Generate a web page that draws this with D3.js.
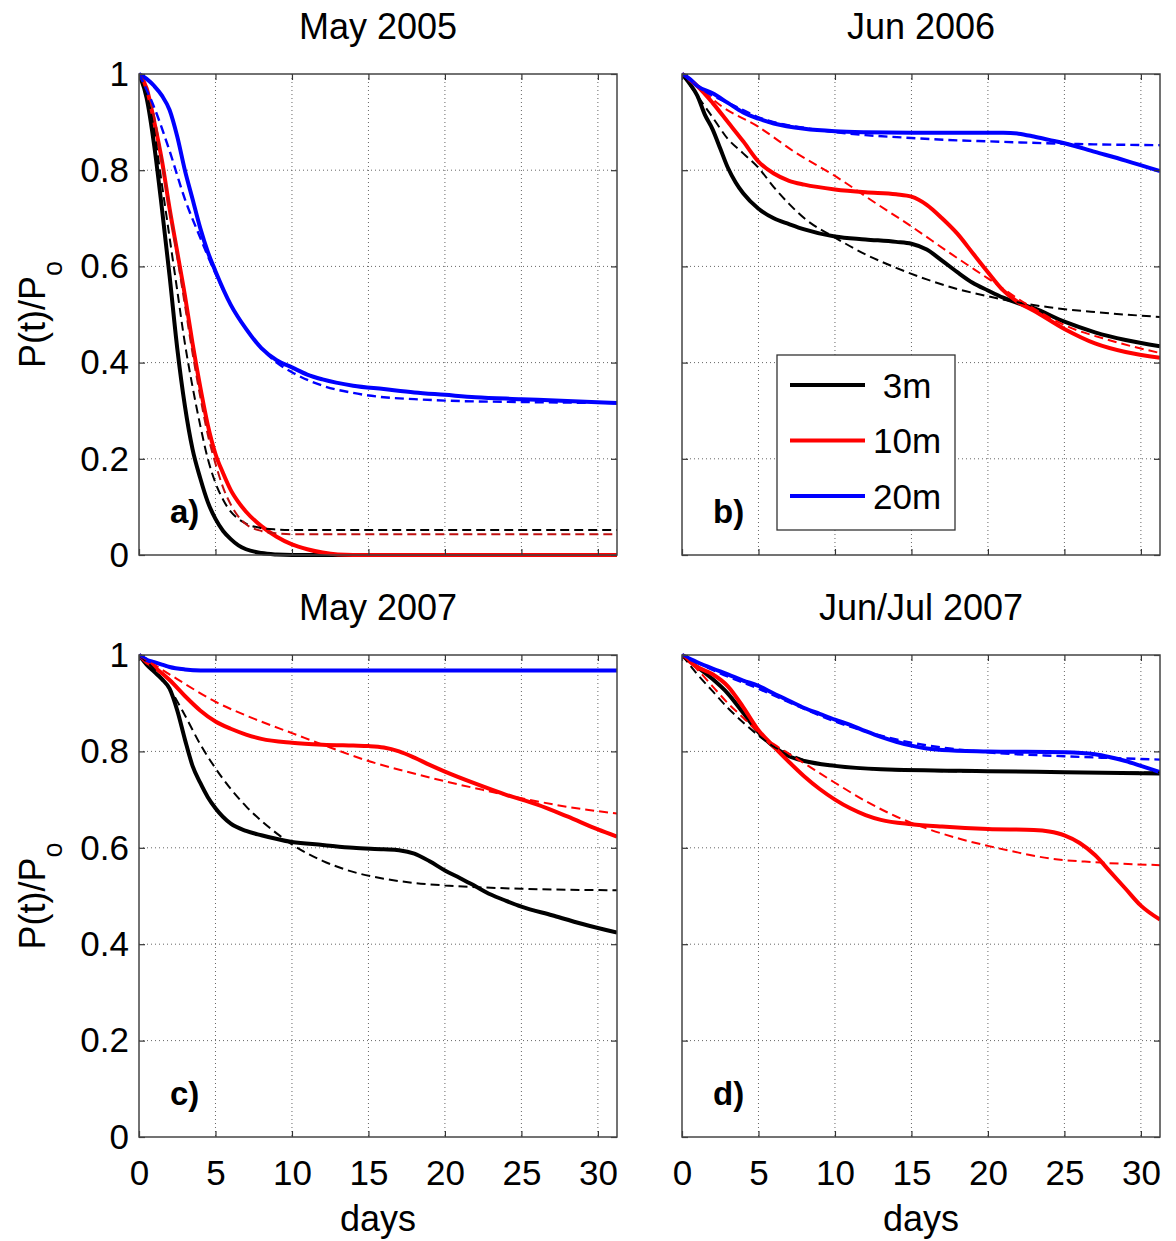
<!DOCTYPE html>
<html>
<head>
<meta charset="utf-8">
<script src="https://cdn.jsdelivr.net/npm/d3@7"></script>
<style>
  body { margin: 0; background: #fff; }
  svg text { font-family: "Liberation Sans", Arial, Helvetica, sans-serif; }
</style>
</head>
<body>
<div id="chart"></div>
<script>
// P(t)/Po decay curves, 4 cruises, 3 depths (solid = data, dashed = fit)
const titles = ["May 2005", "Jun 2006", "May 2007", "Jun/Jul 2007"];
const tags = ["a)", "b)", "c)", "d)"];
const depths = [" 3m", "10m", "20m"];
const xTicks = [0, 5, 10, 15, 20, 25, 30];
const yTicks = [0, 0.2, 0.4, 0.6, 0.8, 1];

// panel a) May 2005  — [day, P/Po]
const a3m = [[0,1],[0.5,0.95],[1,0.85],[1.5,0.72],[2,0.58],[2.5,0.43],[3,0.31],[3.5,0.22],[4,0.16],[4.5,0.11],[5,0.075],[5.5,0.05],[6,0.033],[6.5,0.02],[7,0.012],[8,0.004],[9,0.001],[10,0],[31.25,0]];
const a10m = [[0,1],[0.5,0.97],[1,0.9],[1.5,0.82],[2,0.72],[2.5,0.63],[3,0.54],[3.5,0.44],[4,0.35],[4.5,0.27],[5,0.21],[5.5,0.17],[6,0.135],[6.5,0.11],[7,0.09],[8,0.06],[9,0.038],[10,0.022],[11,0.012],[12,0.005],[13,0.001],[14,0],[31.25,0]];
const a20m = [[0,1],[0.5,0.99],[1,0.975],[1.5,0.955],[2,0.925],[2.5,0.87],[3,0.8],[3.5,0.74],[4,0.68],[4.5,0.63],[5,0.59],[6,0.52],[7,0.47],[8,0.43],[9,0.405],[10,0.39],[11,0.375],[12,0.365],[14,0.352],[16,0.345],[18,0.338],[20,0.333],[22,0.328],[25,0.324],[28,0.32],[31.25,0.316]];
const a3mFit = [[0,1],[0.5,0.96],[1,0.88],[1.5,0.77],[2,0.66],[2.5,0.55],[3,0.44],[3.5,0.35],[4,0.27],[4.5,0.2],[5,0.15],[5.5,0.115],[6,0.09],[6.5,0.075],[7,0.065],[8,0.056],[9,0.053],[10,0.052],[31.25,0.052]];
const a10mFit = [[0,1],[0.5,0.97],[1,0.91],[1.5,0.82],[2,0.72],[2.5,0.62],[3,0.52],[3.5,0.42],[4,0.33],[4.5,0.25],[5,0.19],[5.5,0.14],[6,0.105],[6.5,0.08],[7,0.064],[8,0.05],[9,0.045],[10,0.043],[31.25,0.043]];
const a20mFit = [[0,1],[1,0.93],[2,0.84],[3,0.74],[4,0.66],[5,0.585],[6,0.52],[7,0.47],[8,0.43],[9,0.4],[10,0.38],[12,0.352],[14,0.337],[16,0.328],[18,0.324],[20,0.321],[25,0.318],[31.25,0.316]];

// panel b) Jun 2006
const b3m = [[0,1],[0.5,0.98],[1,0.955],[1.5,0.915],[2,0.885],[2.5,0.845],[3,0.805],[3.5,0.775],[4,0.752],[5,0.72],[6,0.7],[7,0.688],[8,0.677],[10,0.662],[12,0.656],[14,0.651],[15,0.647],[16,0.635],[17,0.612],[18,0.588],[19,0.566],[20,0.55],[21,0.535],[22,0.523],[23,0.513],[25,0.485],[27,0.463],[29,0.447],[31.25,0.434]];
const b10m = [[0,1],[1,0.975],[2,0.94],[3,0.9],[4,0.86],[5,0.818],[6,0.793],[7,0.778],[8,0.77],[10,0.76],[12,0.754],[14,0.75],[15,0.745],[16,0.728],[17,0.7],[18,0.668],[19,0.628],[20,0.588],[21,0.55],[22,0.525],[23,0.508],[25,0.47],[27,0.44],[29,0.422],[31.25,0.41]];
const b20m = [[0,1],[0.5,0.99],[1,0.975],[2,0.96],[3,0.94],[4,0.92],[5,0.907],[6,0.897],[8,0.886],[10,0.881],[12,0.879],[15,0.878],[18,0.878],[21,0.878],[22,0.876],[23,0.87],[24,0.863],[25,0.856],[27,0.838],[29,0.82],[31.25,0.798]];
const b3mFit = [[0,1],[1,0.955],[2,0.91],[3,0.865],[4,0.835],[5,0.805],[6,0.765],[7,0.73],[8,0.7],[10,0.66],[12,0.625],[14,0.597],[16,0.573],[18,0.553],[20,0.538],[22,0.525],[24,0.515],[27,0.505],[31.25,0.495]];
const b10mFit = [[0,1],[1,0.975],[2.5,0.935],[5,0.89],[7.5,0.835],[10,0.788],[12.5,0.735],[15,0.683],[17.5,0.628],[20,0.575],[22.5,0.522],[25,0.478],[28,0.446],[31.25,0.42]];
const b20mFit = [[0,1],[1,0.975],[2,0.955],[3,0.94],[4,0.925],[5,0.91],[6,0.9],[8,0.888],[10,0.879],[12,0.873],[15,0.867],[18,0.862],[20,0.86],[25,0.855],[31.25,0.852]];

// panel c) May 2007
const c3m = [[0,1],[0.5,0.98],[1,0.965],[1.5,0.95],[2,0.93],[2.5,0.885],[3,0.825],[3.5,0.77],[4,0.735],[4.5,0.705],[5,0.682],[6,0.65],[7,0.635],[8,0.626],[10,0.612],[12,0.606],[14,0.6],[16,0.597],[17,0.595],[18,0.588],[19,0.572],[20,0.553],[21,0.537],[22,0.52],[23,0.503],[24,0.49],[25,0.478],[27,0.46],[29,0.442],[31.25,0.424]];
const c10m = [[0,1],[0.5,0.985],[1,0.975],[1.5,0.962],[2,0.948],[3,0.915],[4,0.885],[5,0.862],[6,0.847],[7,0.835],[8,0.826],[10,0.818],[12,0.814],[14,0.812],[15,0.811],[16,0.808],[17,0.8],[18,0.787],[19,0.772],[20,0.758],[22,0.733],[24,0.71],[26,0.69],[28,0.665],[30,0.638],[31.25,0.623]];
const c20m = [[0,1],[0.5,0.99],[1,0.985],[1.5,0.98],[2,0.975],[3,0.97],[4,0.968],[31.25,0.968]];
const c3mFit = [[0,1],[1,0.97],[2,0.93],[3,0.875],[4,0.815],[5,0.765],[6,0.722],[7,0.686],[8,0.656],[9,0.63],[10,0.607],[12,0.573],[14,0.55],[16,0.536],[18,0.527],[20,0.522],[25,0.515],[31.25,0.512]];
const c10mFit = [[0,1],[2.5,0.95],[5,0.903],[7.5,0.868],[10,0.838],[12.5,0.808],[15,0.78],[17.5,0.758],[20,0.738],[22.5,0.72],[25,0.703],[28,0.685],[31.25,0.671]];
const c20mFit = [[0,1],[1,0.985],[2,0.975],[3,0.97],[5,0.968],[31.25,0.968]];

// panel d) Jun/Jul 2007
const d3m = [[0,1],[1,0.975],[2,0.95],[3,0.92],[4,0.88],[5,0.84],[6,0.81],[7,0.79],[8,0.78],[10,0.77],[13,0.763],[20,0.759],[25,0.757],[31.25,0.754]];
const d10m = [[0,1],[1,0.975],[2,0.96],[3,0.935],[4,0.892],[5,0.844],[6,0.81],[7,0.778],[8,0.748],[9,0.722],[10,0.7],[11,0.682],[12,0.668],[13,0.658],[15,0.649],[17,0.644],[20,0.639],[23,0.637],[24,0.634],[25,0.626],[26,0.61],[27,0.585],[28,0.55],[29,0.515],[30,0.48],[31.25,0.451]];
const d20m = [[0,1],[1,0.985],[2,0.972],[3,0.96],[4,0.947],[5,0.936],[6,0.92],[7,0.905],[8,0.89],[9,0.878],[10,0.866],[11,0.855],[12,0.842],[13,0.83],[14,0.82],[15,0.812],[16,0.806],[17,0.803],[20,0.8],[25,0.798],[27,0.794],[28,0.788],[29,0.78],[30,0.77],[31.25,0.757]];
const d3mFit = [[0,1],[1,0.96],[2,0.925],[3,0.89],[4,0.86],[5,0.833],[6,0.81],[7,0.795],[8,0.782],[10,0.77],[12,0.764],[15,0.76],[20,0.758],[25,0.757],[31.25,0.756]];
const d10mFit = [[0,1],[1,0.97],[2,0.935],[3,0.9],[4,0.87],[5,0.84],[6,0.815],[7,0.795],[8,0.775],[10,0.735],[12,0.697],[14,0.665],[16,0.64],[18,0.62],[20,0.604],[22,0.59],[24,0.578],[27,0.57],[31.25,0.564]];
const d20mFit = [[0,1],[2.5,0.962],[5,0.93],[7.5,0.895],[10,0.862],[12.5,0.837],[15,0.818],[17.5,0.806],[20,0.798],[25,0.79],[31.25,0.783]];

const colors = ["#000000", "#ff0000", "#0000ff"];
const width = 1176, height = 1241;
const panelW = 478;
const lefts = [139, 682];
const tops = [74, 655];
const bottoms = [555, 1137];

const panels = [
  { data: [a3m, a10m, a20m], fits: [a3mFit, a10mFit, a20mFit] },
  { data: [b3m, b10m, b20m], fits: [b3mFit, b10mFit, b20mFit] },
  { data: [c3m, c10m, c20m], fits: [c3mFit, c10mFit, c20mFit] },
  { data: [d3m, d10m, d20m], fits: [d3mFit, d10mFit, d20mFit] }
];

const svg = d3.select("#chart")
  .append("svg")
    .attr("width", width)
    .attr("height", height)
    .attr("viewBox", [0, 0, width, height]);

svg.append("rect").attr("width", width).attr("height", height).attr("fill", "white");

panels.forEach((p, i) => {
  const col = i % 2, row = Math.floor(i / 2);
  const x0 = lefts[col], y0 = tops[row], y1 = bottoms[row];
  const x = d3.scaleLinear().domain([0, 31.25]).range([x0, x0 + panelW]);
  const y = d3.scaleLinear().domain([0, 1]).range([y1, y0]);
  const g = svg.append("g");

  // dotted grid
  g.selectAll(".gx")
    .data(xTicks.filter(d => d > 0))
    .enter().append("line")
      .attr("x1", d => x(d)).attr("x2", d => x(d))
      .attr("y1", y0).attr("y2", y1)
      .attr("stroke", "#666").attr("stroke-width", 1)
      .attr("stroke-dasharray", "1,3");
  g.selectAll(".gy")
    .data(yTicks.filter(d => d > 0 && d < 1))
    .enter().append("line")
      .attr("x1", x0).attr("x2", x0 + panelW)
      .attr("y1", d => y(d)).attr("y2", d => y(d))
      .attr("stroke", "#666").attr("stroke-width", 1)
      .attr("stroke-dasharray", "1,3");

  // clip to axes box
  const clipId = "clip" + i;
  svg.append("clipPath").attr("id", clipId)
    .append("rect").attr("x", x0).attr("y", y0 - 2).attr("width", panelW).attr("height", y1 - y0 + 4);

  const line = d3.line()
    .x(d => x(d[0]))
    .y(d => y(d[1]))
    .curve(d3.curveMonotoneX);

  const plot = g.append("g").attr("clip-path", `url(#${clipId})`);
  p.data.forEach((s, k) => {
    plot.append("path")
      .datum(s)
      .attr("fill", "none")
      .attr("stroke", colors[k])
      .attr("stroke-width", 4)
      .attr("stroke-linejoin", "round")
      .attr("d", line);
  });
  p.fits.forEach((s, k) => {
    plot.append("path")
      .datum(s)
      .attr("fill", "none")
      .attr("stroke", (i === 0 && k === 1) ? "#c01010" : colors[k])
      .attr("stroke-width", k === 2 ? 2.4 : 2)
      .attr("stroke-dasharray", "9,5")
      .attr("d", line);
  });

  // axes (inward ticks on all sides)
  const tickStyle = sel => {
    sel.select(".domain").remove();
    sel.selectAll(".tick line").attr("stroke", "#333").attr("stroke-width", 1.2);
    sel.selectAll(".tick text")
      .attr("fill", "#000")
      .style("font-size", "35px")
      .style("font-family", '"Liberation Sans", Arial, sans-serif');
  };
  g.append("g").attr("transform", `translate(${x0},0)`)
    .call(d3.axisLeft(y).tickValues(yTicks).tickSize(-6).tickPadding(10)
      .tickFormat(col === 0 ? d3.format("~g") : ""))
    .call(tickStyle);
  g.append("g").attr("transform", `translate(${x0 + panelW},0)`)
    .call(d3.axisRight(y).tickValues(yTicks).tickSize(-6).tickFormat(""))
    .call(tickStyle);
  g.append("g").attr("transform", `translate(0,${y1})`)
    .call(d3.axisBottom(x).tickValues(xTicks).tickSize(-6).tickPadding(23)
      .tickFormat(row === 1 ? d3.format("d") : ""))
    .call(tickStyle);
  g.append("g").attr("transform", `translate(0,${y0})`)
    .call(d3.axisTop(x).tickValues(xTicks).tickSize(-6).tickFormat(""))
    .call(tickStyle);

  // box
  g.append("rect")
    .attr("x", x0).attr("y", y0)
    .attr("width", panelW).attr("height", y1 - y0)
    .attr("fill", "none")
    .attr("stroke", "#444")
    .attr("stroke-width", 1.5);

  // title
  svg.append("text")
    .attr("x", x0 + panelW / 2)
    .attr("y", y0 - 35)
    .attr("text-anchor", "middle")
    .attr("font-size", "36px")
    .text(titles[i]);

  // panel tag
  svg.append("text")
    .attr("x", x0 + 31)
    .attr("y", y1 - 32)
    .attr("font-size", "33px")
    .attr("font-weight", "bold")
    .text(tags[i]);

  // axis labels
  if (col === 0) {
    const yl = svg.append("text")
      .attr("transform", `translate(45,${(y0 + y1) / 2}) rotate(-90)`)
      .attr("text-anchor", "middle")
      .attr("font-size", "36px");
    yl.append("tspan").text("P(t)/P");
    yl.append("tspan").attr("dy", 17).attr("font-size", "27px").text("o");
  }
  if (row === 1) {
    svg.append("text")
      .attr("x", x0 + panelW / 2)
      .attr("y", 1231)
      .attr("text-anchor", "middle")
      .attr("font-size", "36px")
      .text("days");
  }

  // legend lives in panel b
  if (i === 1) {
    const lg = svg.append("g");
    lg.append("rect")
      .attr("x", 777).attr("y", 355)
      .attr("width", 178).attr("height", 175)
      .attr("fill", "white")
      .attr("stroke", "#333")
      .attr("stroke-width", 1.3);
    lg.selectAll(".legline")
      .data(depths)
      .enter().append("line")
        .attr("x1", 790).attr("x2", 865)
        .attr("y1", (d, k) => 385 + k * 55.5)
        .attr("y2", (d, k) => 385 + k * 55.5)
        .attr("stroke", (d, k) => colors[k])
        .attr("stroke-width", 4);
    lg.selectAll(".legtext")
      .data(depths)
      .enter().append("text")
        .attr("x", 873)
        .attr("y", (d, k) => 385 + k * 55.5 + 12.5)
        .attr("font-size", "35px")
        .attr("xml:space", "preserve")
        .style("white-space", "pre")
        .text(d => d);
  }
});
</script>
</body>
</html>
